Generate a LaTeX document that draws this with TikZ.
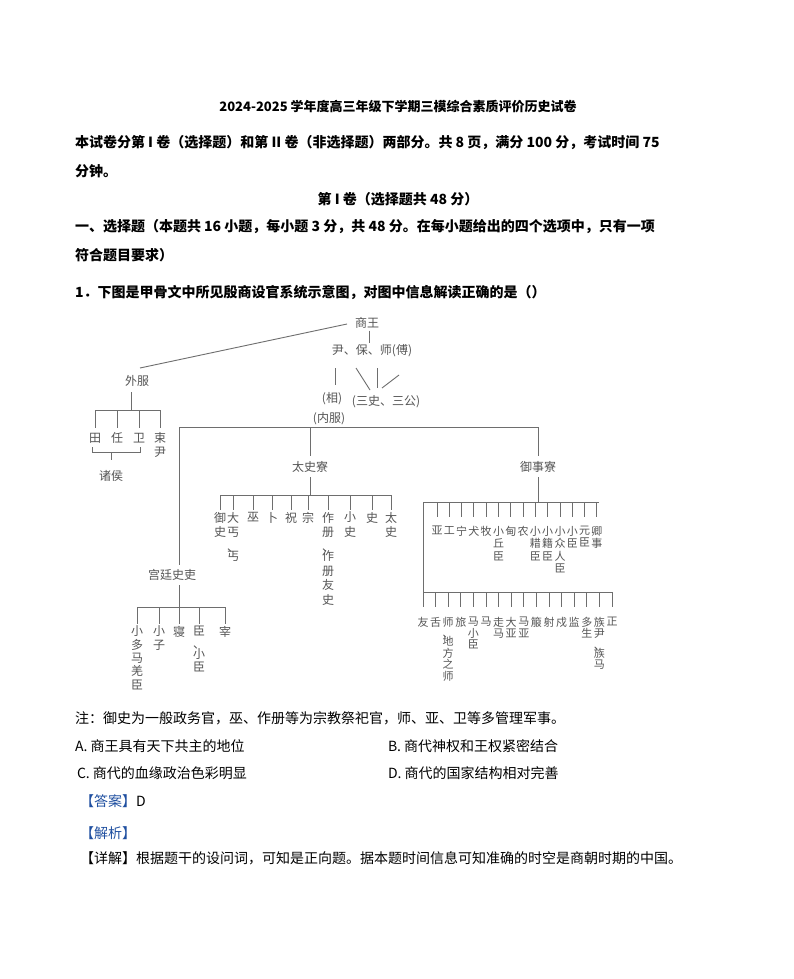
\documentclass[tikz,border=0pt]{standalone}
\usepackage{fontspec}
\newfontfamily\cjk{Noto Sans CJK SC}
\definecolor{dgray}{HTML}{555555}
\definecolor{lgray}{HTML}{6E6E6E}
\definecolor{ansblue}{HTML}{1F4FA0}
\begin{document}
\begin{tikzpicture}[x=1pt,y=-1pt,
  every node/.style={inner sep=0pt,outer sep=0pt},
  hdr/.style={font=\cjk\bfseries\fontsize{14}{16}\selectfont,anchor=west},
  opt/.style={font=\cjk\fontsize{14}{16}\selectfont,anchor=west},
  dg/.style={font=\cjk\fontsize{12}{14.5}\selectfont,text=dgray},
  vl/.style={dg,anchor=north,align=center},
  vs/.style={font=\cjk\fontsize{11}{12.5}\selectfont,text=dgray,anchor=north,align=center},
  vt/.style={font=\cjk\fontsize{11}{11.6}\selectfont,text=dgray,anchor=north,align=center},
  ln/.style={draw=lgray,line width=0.9pt}]
\fill[white] (0,0) rectangle (793,979);
\useasboundingbox (0,0) rectangle (793,979);

% ---------- header ----------
\node[hdr,anchor=center,font=\cjk\bfseries\fontsize{13}{15}\selectfont] (title) at (398,107) {2024-2025 学年度高三年级下学期三模综合素质评价历史试卷};
\node[hdr] (l1) at (75,143) {本试卷分第 I 卷（选择题）和第 II 卷（非选择题）两部分。共 8 页，满分 100 分，考试时间 75};
\node[hdr] (l2) at (75,171) {分钟。};
\node[hdr,anchor=center] (part) at (398,199) {第 I 卷（选择题共 48 分）};
\node[hdr] (l3) at (75,227) {一、选择题（本题共 16 小题，每小题 3 分，共 48 分。在每小题给出的四个选项中，只有一项};
\node[hdr] (l4) at (75,255) {符合题目要求）};
\node[hdr] (q1) at (75,292) {1．下图是甲骨文中所见殷商设官系统示意图，对图中信息解读正确的是（）};

% ---------- diagram: top ----------
\node[dg] (wang) at (367,323) {商王};
\node[dg] (yin) at (372,351) {尹、保、师(傅)};
\node[dg] (xiang) at (332,399) {(相)};
\node[dg] (sanshi) at (386,402) {(三史、三公)};
\node[dg] (neifu) at (329,419) {(内服)};
\node[dg] (waifu) at (137,381) {外服};
\node[dg] (taishi) at (310,467) {太史寮};
\node[dg] (yushi) at (538,467) {御事寮};
\node[dg] (gong) at (172,575) {宫廷史吏};

\coordinate (wl) at (347,324);
\coordinate (wr) at (140,368);
\draw[ln] (wl) -- (wr);
\draw[ln] (wang.south -| 369,0) ++(0,2) -- (369,343);
\draw[ln] (335,368) -- (335,385);
\draw[ln] (356,368) -- (370,390);
\draw[ln] (377,368) -- (377,388);
\draw[ln] (399,375) -- (382,388);

% inner bus
\coordinate (busL) at (179,427);
\coordinate (busT) at (310,427);
\coordinate (busR) at (538,427);
\draw[ln] (busL) -- (busR);
\draw[ln] (busT) -- (310,456);
\draw[ln] (busR) -- (538,456);
\draw[ln] (busL) -- (179,565);

% ---------- waifu group ----------
\draw[ln] (131,392) -- (131,410);
\draw[ln] (95,410) -- (160,410);
\foreach \x in {95,117,139,160} \draw[ln] (\x,410) -- (\x,428);
\node[dg] (tian) at (95,438) {田};
\node[dg] (ren) at (117,438) {任};
\node[dg] (wei) at (139,438) {卫};
\node[vl] (shuyin) at (160,432) {束\\尹};
\draw[ln] (92,447) -- (92,452) -- (140,452) -- (140,447);
\draw[ln] (111,452) -- (111,460);
\node[dg] (zhuhou) at (111,476) {诸侯};

% ---------- taishi group ----------
\draw[ln] (310,477) -- (310,495);
\draw[ln] (220,495) -- (391,495);
\foreach \x in {220,233,253,272,291,308,328,350,372,391} \draw[ln] (\x,495) -- (\x,510);
\node[vl] (t1) at (220,512) {御\\史};
\node[vl] (t2) at (233,512) {大\\丐\\、\\[-5pt]丐};
\node[vl] (t3) at (253,512) {巫};
\node[vl] (t4) at (272,512) {卜};
\node[vl] (t5) at (291,512) {祝};
\node[vl] (t6) at (308,512) {宗};
\node[vl] (t7) at (328,512) {作\\册\\、\\[-5pt]作\\册\\友\\史};
\node[vl] (t8) at (350,512) {小\\史};
\node[vl] (t9) at (372,512) {史};
\node[vl] (t10) at (391,512) {太\\史};

% ---------- gongting group ----------
\draw[ln] (179,585) -- (179,607);
\draw[ln] (137,607) -- (225,607);
\foreach \x in {137,159,179,199,225} \draw[ln] (\x,607) -- (\x,624);
\node[vl,font=\cjk\fontsize{12}{13.3}\selectfont] (g1) at (137,626) {小\\多\\马\\羌\\臣};
\node[vl,font=\cjk\fontsize{12}{13.3}\selectfont] (g2) at (159,626) {小\\子};
\node[vl] (g3) at (179,626) {寝};
\node[vl,font=\cjk\fontsize{12}{13.3}\selectfont] (g4) at (199,626) {臣\\、\\[-4pt]小\\臣};
\node[vl] (g5) at (225,626) {宰};

% ---------- yushi group ----------
\draw[ln] (538,477) -- (538,502);
\draw[ln] (423,502) -- (599,502);
\draw[ln] (423,502) -- (423,592);
\foreach \i/\t in {0/亚,1/工,2/宁,3/犬,4/牧,5/小\\丘\\臣,6/甸,7/农,8/小\\耤\\臣,9/小\\籍\\臣,10/小\\众\\人\\臣,11/小\\臣,12/元\\臣,13/卿\\事}{
  \draw[ln] ({437+\i*12.3},502) -- ({437+\i*12.3},517);
  \node[vs] (u\i) at ({437+\i*12.3},526) {\t};
}
\draw[ln] (423,592) -- (612,592);
\foreach \i/\t in {0/友,1/舌,2/师\\、\\[-4pt]地\\方\\之\\师,3/旅,4/马\\小\\臣,5/马,6/走\\马,7/大\\亚,8/马\\亚,9/箙,10/射,11/戍,12/监,13/多\\生,14/族\\尹\\、\\[-4pt]族\\马,15/正}{
  \draw[ln] ({423+\i*12.6},592) -- ({423+\i*12.6},607);
  \node[vt] (d\i) at ({423+\i*12.6},617) {\t};
}

% ---------- note and options ----------
\node[opt] (note) at (75,718) {注：御史为一般政务官，巫、作册等为宗教祭祀官，师、亚、卫等多管理军事。};
\node[opt] (oa) at (75,746) {A. 商王具有天下共主的地位};
\node[opt] (ob) at (388,746) {B. 商代神权和王权紧密结合};
\node[opt] (oc) at (77,773) {C. 商代的血缘政治色彩明显};
\node[opt] (od) at (388,773) {D. 商代的国家结构相对完善};
\node[opt] (ans) at (80,801) {\textcolor{ansblue}{【答案】}D};
\node[opt,text=ansblue] (jx) at (80,833) {【解析】};
\node[opt] (xj) at (80,858) {【详解】根据题干的设问词，可知是正向题。据本题时间信息可知准确的时空是商朝时期的中国。};
\end{tikzpicture}
\end{document}
